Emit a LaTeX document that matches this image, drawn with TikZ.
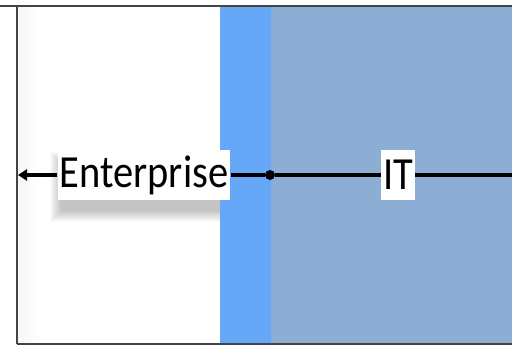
\documentclass[tikz,border=0pt]{standalone}
\usepackage{fontspec}
\setmainfont{Carlito}[FakeStretch=0.88]
\usetikzlibrary{arrows.meta}
\definecolor{bandblue}{HTML}{67A7F7}
\definecolor{grayblue}{HTML}{8CADD4}
\definecolor{framegray}{HTML}{444444}
\tikzset{
  lbl/.style={fill=white, inner xsep=2pt, inner ysep=0pt, minimum height=50pt, font=\fontsize{46}{46}\selectfont, anchor=center},
  conn/.style={line width=3.5pt, black},
  shadowlayer/.style={fill=black, opacity=0.02},
}
\begin{document}
\begin{tikzpicture}[x=1pt,y=-1pt]
\useasboundingbox (0,0) rectangle (512,345);
\fill[white] (0,0) rectangle (512,345);
\foreach \i in {0,...,7} {\fill[black, opacity=0.003] (17,7) rectangle (20+3*\i,343);}
\foreach \i in {0,...,11} {\fill[shadowlayer] (50+\i,152+\i) rectangle (250-\i,222-\i);}
\fill[bandblue] (220,7) rectangle (271,343);
\fill[grayblue] (271,7) rectangle (512,343);
\draw[framegray, line width=2pt] (0,6) -- (512,6);
\draw[framegray, line width=2pt] (17,6) -- (17,344);
\draw[framegray, line width=2pt] (17,343.5) -- (512,343.5);
\node[lbl] (ent) at (144,175) {Enterprise};
\node[lbl] (it) at (398,175) {IT};
\coordinate (tip) at (18,175);
\coordinate (rend) at (512,175);
\node[circle, fill=black, inner sep=0pt, minimum size=10pt] (dot) at (270,175) {};
\draw[conn, -{Triangle[length=9pt,width=11pt]}] (ent.west) -- (tip);
\draw[conn] (ent.east) -- (dot) -- (it.west);
\draw[conn] (it.east) -- (rend);
\end{tikzpicture}
\end{document}
